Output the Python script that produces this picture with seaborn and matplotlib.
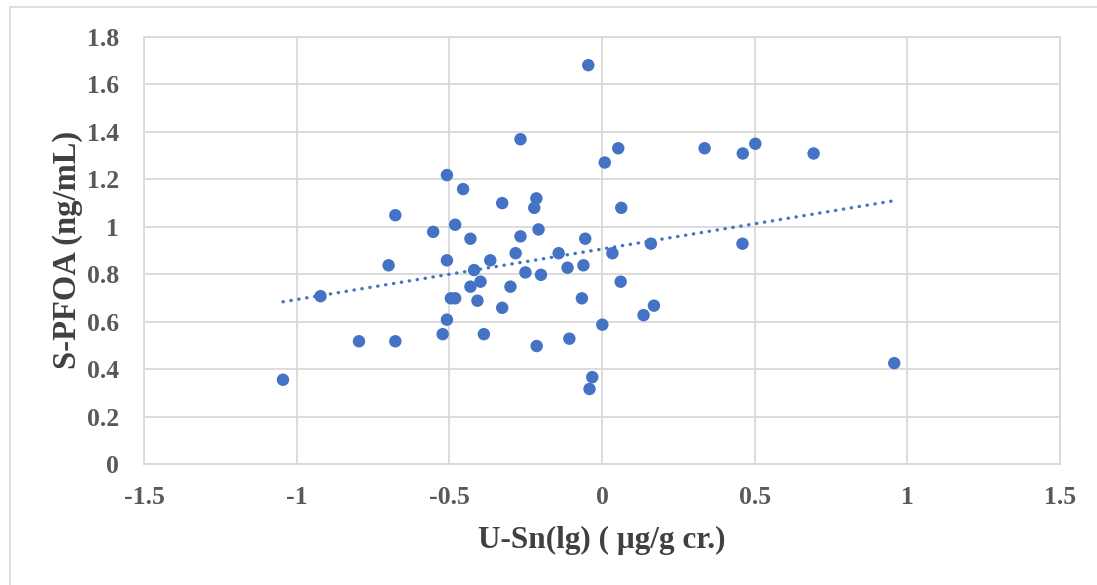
import numpy as np
import pandas as pd
import matplotlib.pyplot as plt
import seaborn as sns
from matplotlib.patches import Rectangle

# Values
u_sn = [-0.045, -0.267, 0.053, 0.336, 0.461, 0.502, 0.693, 0.009, -0.508, -0.455,
        -0.327, -0.215, -0.222, 0.063, -0.677, -0.481, -0.553, -0.208, -0.431, -0.267,
        -0.055, 0.160, 0.460, -0.699, -0.508, -0.366, -0.283, -0.142, 0.034, -0.419,
        -0.251, -0.200, -0.113, -0.061, 0.061, -0.922, -0.431, -0.398, -0.300, -0.495,
        -0.481, -0.408, -0.327, -0.066, -0.508, 0.001, -0.522, -0.387, -0.107, -0.214,
        -0.796, -0.677, -0.032, -0.041, -1.045, 0.170, 0.136, 0.957]
s_pfoa = [1.68, 1.368, 1.33, 1.33, 1.308, 1.349, 1.308, 1.27, 1.217, 1.158,
          1.099, 1.119, 1.079, 1.079, 1.048, 1.008, 0.978, 0.988, 0.949, 0.959,
          0.949, 0.928, 0.928, 0.837, 0.858, 0.858, 0.888, 0.888, 0.888, 0.817,
          0.807, 0.797, 0.827, 0.837, 0.768, 0.707, 0.747, 0.768, 0.747, 0.698,
          0.698, 0.688, 0.658, 0.698, 0.608, 0.587, 0.547, 0.547, 0.528, 0.497,
          0.517, 0.517, 0.366, 0.316, 0.355, 0.667, 0.627, 0.425]
x_ticks = [-1.5, -1, -0.5, 0, 0.5, 1, 1.5]
x_tick_labels = ['-1.5', '-1', '-0.5', '0', '0.5', '1', '1.5']
y_ticks = [0, 0.2, 0.4, 0.6, 0.8, 1.0, 1.2, 1.4, 1.6, 1.8]
y_tick_labels = ['0', '0.2', '0.4', '0.6', '0.8', '1', '1.2', '1.4', '1.6', '1.8']

df = pd.DataFrame({'u_sn': u_sn, 's_pfoa': s_pfoa})

sns.set_theme(style='white')
plt.rcParams['font.family'] = ['Liberation Serif', 'DejaVu Serif']
plt.rcParams['font.weight'] = 'bold'

blue = '#4472C4'
grid = '#D9D9D9'

fig = plt.figure(figsize=(10.97, 5.85), dpi=100)
ax = fig.add_axes([0.1313, 0.2068, 0.8350, 0.7305])

# Light frame round the whole chart area
fig.patches.append(Rectangle((10 / 1097, -0.05), 1.1, 1 - 7 / 585 + 0.05,
                             transform=fig.transFigure, fill=False,
                             edgecolor=grid, linewidth=1.2, zorder=0))

sns.scatterplot(data=df, x='u_sn', y='s_pfoa', ax=ax, color=blue, s=80,
                edgecolor='none', zorder=3)
# Linear trend line (dotted), fitted on the same points
sns.regplot(data=df, x='u_sn', y='s_pfoa', ax=ax, scatter=False, ci=None,
            truncate=True,
            line_kws={'color': blue, 'linewidth': 2.4, 'dashes': (0.1, 2.3),
                      'dash_capstyle': 'round', 'zorder': 2})

ax.set_xlim(-1.5, 1.5)
ax.set_ylim(0, 1.8)
ax.set_xticks(x_ticks)
ax.set_xticklabels(x_tick_labels)
ax.set_yticks(y_ticks)
ax.set_yticklabels(y_tick_labels)
ax.tick_params(axis='both', length=0, labelsize=18.5, labelcolor='#595959')
ax.tick_params(axis='x', pad=16)
ax.tick_params(axis='y', pad=18)
for lab in ax.get_xticklabels() + ax.get_yticklabels():
    lab.set_fontweight('bold')

ax.grid(True, color=grid, linewidth=1.3)
ax.set_axisbelow(True)
for sp in ax.spines.values():
    sp.set_color(grid)
    sp.set_linewidth(1.3)

ax.set_xlabel('U-Sn(lg) ( μg/g cr.)', fontsize=22.5, fontweight='bold',
              color='#404040', labelpad=12)
ax.set_ylabel('S-PFOA (ng/mL)', fontsize=23.5, fontweight='bold',
              color='#404040', labelpad=3)

fig.savefig('out.png', dpi=100, facecolor='white')
